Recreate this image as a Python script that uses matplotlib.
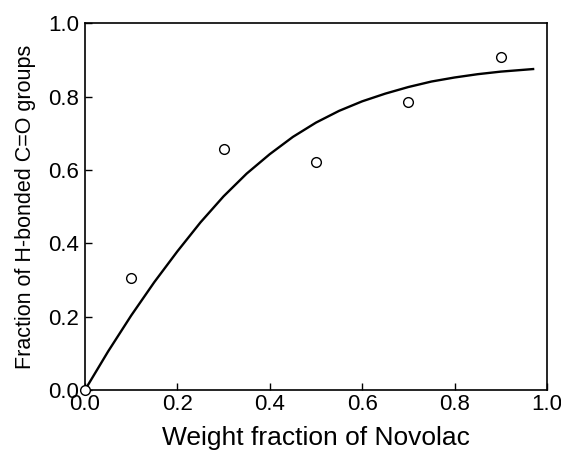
import matplotlib
matplotlib.use("Agg")
import matplotlib.pyplot as plt

plt.rcParams['font.family'] = ['Liberation Sans', 'DejaVu Sans']

# measured points
x_pts = [0.0, 0.10, 0.30, 0.50, 0.70, 0.90]
y_pts = [0.0, 0.304, 0.656, 0.622, 0.786, 0.907]

# fitted curve
x_fit = [0.0, 0.05, 0.10, 0.15, 0.20, 0.25, 0.30, 0.35, 0.40, 0.45,
         0.50, 0.55, 0.60, 0.65, 0.70, 0.75, 0.80, 0.85, 0.90, 0.97]
y_fit = [0.0, 0.105, 0.203, 0.294, 0.378, 0.457, 0.528, 0.590, 0.643, 0.690,
         0.729, 0.761, 0.787, 0.808, 0.826, 0.841, 0.852, 0.861, 0.868, 0.875]

ticks = [0.0, 0.2, 0.4, 0.6, 0.8, 1.0]

fig = plt.figure(figsize=(5.61, 4.55), dpi=100)
ax = fig.add_axes([0.1515, 0.1429, 0.8235, 0.8061])

ax.plot(x_fit, y_fit, color='black', lw=1.7, solid_joinstyle='round')
ax.plot(x_pts, y_pts, 'o', mfc='white', mec='black', ms=7, mew=1.0, clip_on=False, zorder=5)

ax.set_xlim(0, 1)
ax.set_ylim(0, 1)
ax.set_xticks(ticks)
ax.set_yticks(ticks)
ax.set_xticklabels(['%.1f' % t for t in ticks])
ax.set_yticklabels(['%.1f' % t for t in ticks])
ax.tick_params(direction='in', length=5, width=1, labelsize=16)
ax.tick_params(axis='x', pad=3)
ax.tick_params(axis='y', pad=4)
for s in ax.spines.values():
    s.set_linewidth(1.2)

ax.set_xlabel('Weight fraction of Novolac', fontsize=19, labelpad=8)
ax.set_ylabel('Fraction of H-bonded C=O groups', fontsize=15.5, labelpad=9)

fig.savefig('out.png', dpi=100)
